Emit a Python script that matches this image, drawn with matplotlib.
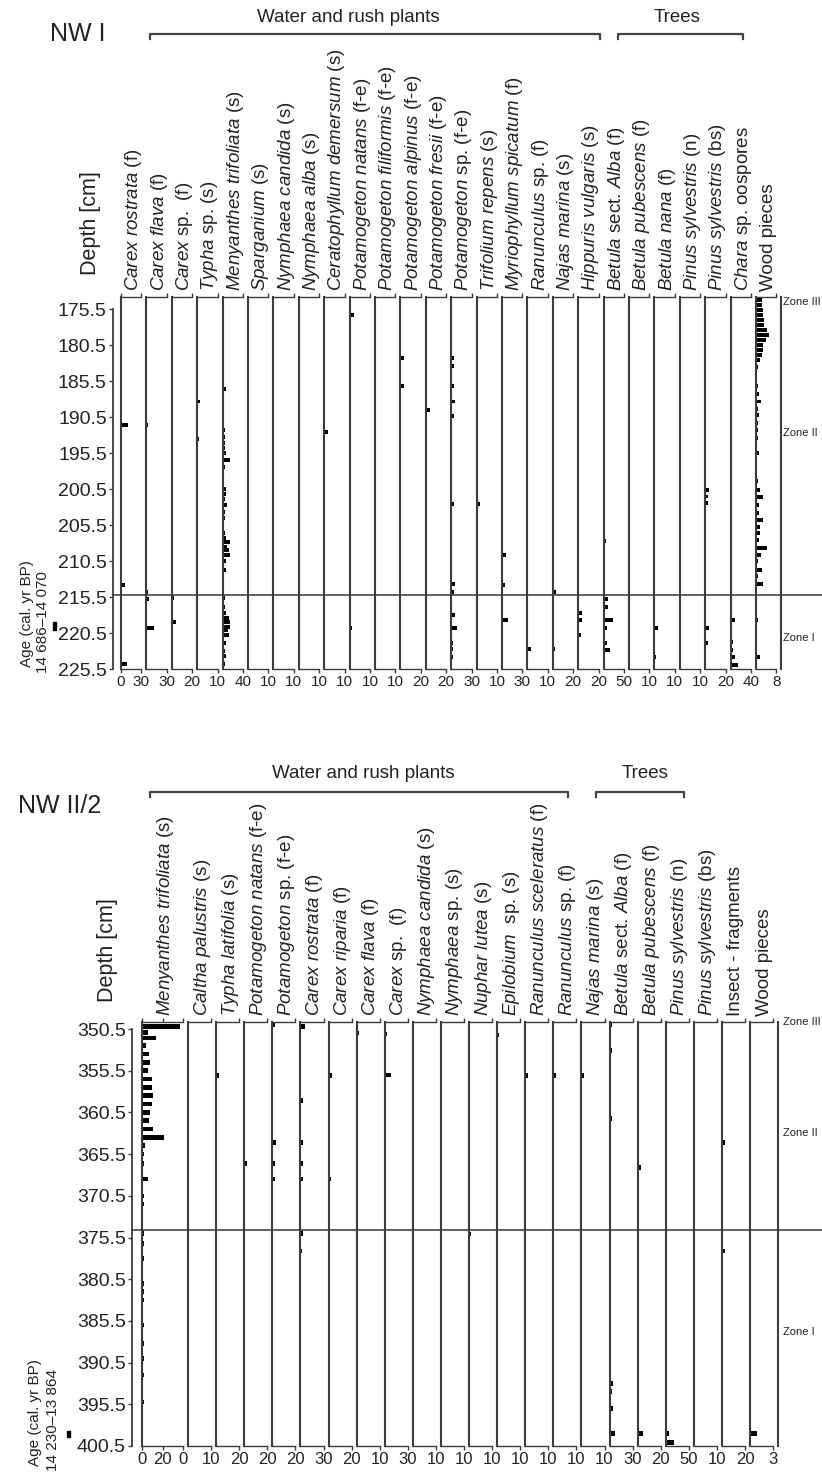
import matplotlib.pyplot as plt
from matplotlib.lines import Line2D
from matplotlib.patches import Rectangle

plt.rcParams['font.family'] = ['Liberation Sans', 'DejaVu Sans']
plt.rcParams['mathtext.fontset'] = 'custom'
plt.rcParams['mathtext.rm'] = 'Liberation Sans'
plt.rcParams['mathtext.it'] = 'Liberation Sans:italic'

W, H = 822, 1481


def it(s):
    return r"$\mathit{" + s.replace(" ", r"\ ") + "}$"


# ---------------------------------------------------------------
# NW I : taxa, scale maxima and (depth cm, value) records
# ---------------------------------------------------------------
nw1_taxa = [
    it("Carex rostrata") + " (f)", it("Carex flava") + " (f)", it("Carex") + " sp.  (f)",
    it("Typha") + " sp. (s)", it("Menyanthes trifoliata") + " (s)", it("Sparganium") + " (s)",
    it("Nymphaea candida") + " (s)", it("Nymphaea alba") + " (s)",
    it("Ceratophyllum demersum") + " (s)", it("Potamogeton natans") + " (f-e)",
    it("Potamogeton filiformis") + " (f-e)", it("Potamogeton alpinus") + " (f-e)",
    it("Potamogeton fresii") + " (f-e)", it("Potamogeton") + " sp. (f-e)",
    it("Trifolium repens") + " (s)", it("Myriophyllum spicatum") + " (f)",
    it("Ranunculus") + " sp. (f)", it("Najas marina") + " (s)", it("Hippuris vulgaris") + " (s)",
    it("Betula") + " sect. " + it("Alba") + " (f)", it("Betula pubescens") + " (f)",
    it("Betula nana") + " (f)", it("Pinus sylvestris") + " (n)", it("Pinus sylvestris") + " (bs)",
    it("Chara") + " sp. oospores", "Wood pieces",
]
nw1_max = [30, 30, 20, 10, 40, 10, 10, 10, 10, 10, 10, 20, 20, 30, 10, 30, 10, 20, 20,
           50, 10, 10, 10, 20, 40, 8]

nw1_carex_rostrata = [(191.5, 10), (212.6, 1.5), (213.8, 6), (215.9, 1), (222.6, 1.5), (224.8, 9.5)]
nw1_carex_flava = [(191.5, 3), (214.7, 3), (215.7, 4.5), (219.8, 11)]
nw1_carex_sp = [(204.8, 1.5), (209.6, 1.5), (215.6, 2.5), (217.7, 1.5), (218.9, 4.5),
                (221.9, 1.5), (224.0, 1.5), (225.1, 1)]
nw1_typha = [(188.3, 1.5), (193.5, 0.8)]
nw1_menyanthes = [(186.5, 7), (192.3, 5), (193.2, 5), (194.1, 5), (194.8, 5), (195.5, 6),
                  (196.4, 15), (197.4, 5), (200.4, 6), (201.1, 6), (201.8, 5), (202.7, 9),
                  (203.6, 5), (204.5, 5), (206.6, 5), (207.3, 6), (207.8, 15), (208.5, 8),
                  (208.9, 12), (209.6, 14), (210.5, 7), (211.7, 6), (215.6, 4), (216.8, 5),
                  (217.7, 6), (218.4, 12), (218.9, 14), (219.6, 15), (220.0, 10), (220.7, 12),
                  (221.9, 6), (223.0, 5), (223.7, 6), (224.7, 5)]
nw1_sparganium = [(219.8, 0.5)]
nw1_nymphaea_candida = []
nw1_nymphaea_alba = [(195.5, 0.5)]
nw1_ceratophyllum = [(192.5, 2)]
nw1_pot_natans = [(176.3, 2), (219.8, 1.2)]
nw1_pot_filiformis = [(182.3, 0.5), (185.1, 0.5), (186.2, 0.5)]
nw1_pot_alpinus = [(182.3, 3.5), (186.2, 3.5)]
nw1_pot_fresii = [(184.4, 1), (189.5, 4.5)]
nw1_pot_sp = [(182.3, 3.5), (183.4, 3.5), (186.2, 3.5), (188.3, 6), (190.3, 3.5), (202.5, 3.5),
              (213.6, 6), (214.7, 3.5), (218.0, 5), (219.8, 8), (221.8, 2.5), (222.7, 2.5),
              (223.8, 2.5)]
nw1_trifolium = [(202.5, 1.6)]
nw1_myriophyllum = [(209.6, 6), (212.6, 1.5), (213.8, 5), (218.7, 9.5)]
nw1_ranunculus = [(222.7, 2)]
nw1_najas = [(210.5, 0.6), (214.7, 3.5), (216.8, 0.6), (222.7, 2)]
nw1_hippuris = [(217.7, 4), (218.7, 4), (220.7, 3)]
nw1_betula_alba = [(207.7, 6), (215.8, 10), (216.8, 10), (218.7, 24), (219.8, 8), (221.8, 8),
                   (222.8, 16)]
nw1_betula_pubescens = [(218.7, 0.5)]
nw1_betula_nana = [(219.8, 1.6), (223.8, 1)]
nw1_pinus_n = [(203.4, 0.5), (204.3, 0.5), (205.2, 0.5), (206.2, 0.5), (206.8, 0.5), (207.8, 0.5),
               (218.7, 0.6), (221.9, 0.6)]
nw1_pinus_bs = [(200.6, 3.5), (201.5, 3), (202.4, 3), (219.8, 4), (221.9, 3)]
nw1_chara = [(218.7, 8), (221.7, 5), (222.8, 5), (223.8, 8), (224.9, 14)]
nw1_wood = [(174.2, 2.2), (174.9, 2.2), (175.6, 2.9), (176.3, 2.9), (177.0, 3.1), (177.7, 3.1),
            (178.4, 4.2), (179.1, 5.2), (179.8, 3.9), (180.5, 2.6), (181.1, 2.9), (181.8, 2.2),
            (182.5, 1.6), (183.5, 0.9), (186.2, 0.6), (187.2, 1.3), (188.3, 1.8), (189.3, 0.9),
            (190.2, 1.3), (191.3, 0.9), (192.3, 0.9), (193.4, 0.9), (195.5, 1.3), (199.4, 0.6),
            (200.6, 1.6), (201.6, 2.9), (202.7, 1.3), (203.8, 1.3), (204.7, 2.9), (205.7, 1.6),
            (206.6, 1.6), (207.5, 1.3), (208.7, 4.2), (209.6, 1.8), (210.5, 0.9), (211.7, 2.2),
            (212.6, 0.9), (213.6, 2.6), (215.8, 0.5), (217.7, 0.5), (218.7, 0.6), (220.5, 0.5),
            (223.8, 1.6)]

nw1_records = [nw1_carex_rostrata, nw1_carex_flava, nw1_carex_sp, nw1_typha, nw1_menyanthes,
               nw1_sparganium, nw1_nymphaea_candida, nw1_nymphaea_alba, nw1_ceratophyllum,
               nw1_pot_natans, nw1_pot_filiformis, nw1_pot_alpinus, nw1_pot_fresii, nw1_pot_sp,
               nw1_trifolium, nw1_myriophyllum, nw1_ranunculus, nw1_najas, nw1_hippuris,
               nw1_betula_alba, nw1_betula_pubescens, nw1_betula_nana, nw1_pinus_n,
               nw1_pinus_bs, nw1_chara, nw1_wood]
nw1_depth_ticks = [175.5, 180.5, 185.5, 190.5, 195.5, 200.5, 205.5, 210.5, 215.5, 220.5, 225.5]
nw1_zone_boundary = 215.2
nw1_zones = ["Zone III", "Zone II", "Zone I"]

# ---------------------------------------------------------------
# NW II/2
# ---------------------------------------------------------------
nw2_taxa = [
    it("Menyanthes trifoliata") + " (s)", it("Caltha palustris") + " (s)",
    it("Typha latifolia") + " (s)", it("Potamogeton natans") + " (f-e)",
    it("Potamogeton") + " sp. (f-e)", it("Carex rostrata") + " (f)", it("Carex riparia") + " (f)",
    it("Carex flava") + " (f)", it("Carex") + " sp.  (f)", it("Nymphaea candida") + " (s)",
    it("Nymphaea") + " sp. (s)", it("Nuphar lutea") + " (s)", it("Epilobium") + "  sp. (s)",
    it("Ranunculus sceleratus") + " (f)", it("Ranunculus") + " sp. (f)",
    it("Najas marina") + " (s)", it("Betula") + " sect. " + it("Alba") + " (f)",
    it("Betula pubescens") + " (f)", it("Pinus sylvestris") + " (n)",
    it("Pinus sylvestris") + " (bs)", "Insect - fragments", "Wood pieces",
]
nw2_max = [40, 10, 20, 20, 20, 30, 20, 10, 30, 10, 10, 10, 10, 10, 10, 10, 30, 20, 50, 10, 20, 3]

nw2_menyanthes = [(350.2, 37), (350.9, 6), (351.6, 14), (352.5, 4), (353.5, 7), (354.5, 8),
                  (355.5, 6), (356.5, 10), (357.5, 10), (358.5, 11), (359.5, 10), (360.5, 8),
                  (361.5, 7), (362.5, 11), (363.5, 21), (364.5, 3), (365.5, 2), (366.6, 2),
                  (368.5, 6), (370.5, 2), (371.5, 2), (375.0, 2), (376.2, 2), (378.0, 2),
                  (381.0, 2), (382.0, 2), (383.0, 2), (386.0, 2), (388.2, 2), (390.0, 2),
                  (392.0, 2), (395.2, 2)]
nw2_caltha = [(350.0, 0.5)]
nw2_typha = [(350.0, 1), (356.1, 2.6), (398.0, 1)]
nw2_pot_natans = [(363.5, 0.8), (364.5, 0.8), (365.5, 0.8), (366.6, 2.6), (367.5, 0.8), (368.5, 0.8)]
nw2_pot_sp = [(350.0, 2), (358.1, 0.8), (364.1, 2.8), (366.6, 2.6), (368.5, 2.6)]
nw2_carex_rostrata = [(350.2, 6.5), (359.1, 4), (364.1, 3), (366.6, 3), (368.5, 3), (375.0, 3),
                      (377.1, 2.5)]
nw2_carex_riparia = [(356.1, 2.6), (368.5, 2.2)]
nw2_carex_flava = [(351.0, 1)]
nw2_carex_sp = [(351.1, 3), (356.0, 8.5), (357.1, 2), (364.1, 2)]
nw2_nymphaea_candida = [(350.0, 0.6)]
nw2_nymphaea_sp = []
nw2_nuphar = [(375.1, 0.7)]
nw2_epilobium = [(351.2, 0.7)]
nw2_ran_sceleratus = [(356.1, 1.3)]
nw2_ranunculus = [(356.1, 1.3)]
nw2_najas = [(356.1, 1.3)]
nw2_betula_alba = [(350.0, 3.5), (353.1, 3), (361.2, 3), (393.0, 5), (394.0, 3), (396.0, 4.5),
                   (399.0, 7)]
nw2_betula_pubescens = [(367.1, 2.6), (399.0, 5)]
nw2_pinus_n = [(368.0, 1), (369.1, 1), (374.2, 1.5), (379.0, 1), (381.0, 1), (384.2, 1),
               (390.0, 1), (396.0, 1), (399.0, 8), (400.1, 19)]
nw2_pinus_bs = [(364.5, 0.4), (366.6, 0.5), (368.6, 0.5), (370.6, 0.4), (383.0, 0.4)]
nw2_insect = [(364.1, 3), (377.1, 3)]
nw2_wood = [(395.8, 0.12), (397.0, 0.12), (399.0, 0.9)]

nw2_records = [nw2_menyanthes, nw2_caltha, nw2_typha, nw2_pot_natans, nw2_pot_sp,
               nw2_carex_rostrata, nw2_carex_riparia, nw2_carex_flava, nw2_carex_sp,
               nw2_nymphaea_candida, nw2_nymphaea_sp, nw2_nuphar, nw2_epilobium,
               nw2_ran_sceleratus, nw2_ranunculus, nw2_najas, nw2_betula_alba,
               nw2_betula_pubescens, nw2_pinus_n, nw2_pinus_bs, nw2_insect, nw2_wood]
nw2_depth_ticks = [350.5, 355.5, 360.5, 365.5, 370.5, 375.5, 380.5, 385.5, 390.5, 395.5, 400.5]
nw2_zone_boundary = 374.6
nw2_zones = ["Zone III", "Zone II", "Zone I"]

# ---------------------------------------------------------------
fig = plt.figure(figsize=(W / 100, H / 100), dpi=100)
LINE = '#3c3c3c'
TXT = '#222222'


def px_axes(x0, y0, x1, y1):
    return fig.add_axes([x0 / W, 1 - y1 / H, (x1 - x0) / W, (y1 - y0) / H])


def ftext(x, y, s, **kw):
    return fig.text(x / W, 1 - y / H, s, color=TXT, **kw)


def bracket(x0, x1, y):
    fig.add_artist(Line2D([x0 / W, x0 / W, x1 / W, x1 / W],
                          [1 - (y + 5) / H, 1 - y / H, 1 - y / H, 1 - (y + 5) / H],
                          transform=fig.transFigure, color='#444444', lw=1.6))


def draw_panel(taxa, maxima, records, edges, y_top, y_bot, ylim, depth_x, depth_ticks,
               zone_depth, first_ticks, first_labels, bar_h, lab_fs, tick_fs):
    # depth axis (spans whole panel so the zone line can be drawn from it)
    axd = px_axes(depth_x, y_top, edges[-1], y_bot)
    axd.set_ylim(*ylim)
    axd.set_xlim(0, 1)
    axd.patch.set_visible(False)
    for s in ['top', 'right', 'bottom']:
        axd.spines[s].set_visible(False)
    axd.spines['left'].set_bounds(depth_ticks[0], depth_ticks[-1])
    axd.spines['left'].set_color(LINE)
    axd.spines['left'].set_linewidth(1.3)
    axd.set_xticks([])
    axd.set_yticks(depth_ticks)
    axd.set_yticklabels([f"{t:.1f}" for t in depth_ticks], fontsize=14, color=TXT)
    axd.tick_params(axis='y', direction='out', length=3, width=1, color=LINE, pad=1.5)
    axd.axhline(zone_depth, xmin=0, xmax=(W - depth_x) / (edges[-1] - depth_x),
                color='#555555', lw=1.3, clip_on=False)

    n = len(taxa)
    for i in range(n):
        x0, x1 = edges[i], edges[i + 1]
        w = x1 - x0
        mx = maxima[i]
        ax = px_axes(x0, y_top, x1, y_bot)
        ax.patch.set_visible(False)
        ax.set_ylim(*ylim)
        ax.set_xlim(0, mx * w / (w - 5))
        rec = records[i]
        if rec:
            d = [r[0] for r in rec]
            v = [r[1] for r in rec]
            ax.barh(d, v, height=bar_h, left=0, color='black', linewidth=0)
        ax.spines['left'].set_color(LINE)
        ax.spines['left'].set_linewidth(1.5)
        ax.spines['right'].set_visible(i == n - 1)
        ax.spines['right'].set_color(LINE)
        ax.spines['right'].set_linewidth(1.5)
        for s in ['top', 'bottom']:
            ax.spines[s].set_bounds(0, mx)
            ax.spines[s].set_color(LINE)
            ax.spines[s].set_linewidth(1.0)
        ax.set_yticks([])
        if i == 0:
            ax.set_xticks(first_ticks)
            ax.set_xticklabels(first_labels)
        else:
            ax.set_xticks([mx])
            ax.set_xticklabels([str(mx)])
        ax.tick_params(axis='x', top=True, bottom=True, direction='out', length=3,
                       width=1, color=LINE, labelsize=tick_fs, pad=1, labelcolor=TXT)
        ax.text(0.5, 1.0 + 6.0 / (y_bot - y_top), taxa[i], rotation=90, ha='center',
                va='bottom', fontsize=lab_fs, transform=ax.transAxes, color=TXT)
    return axd


# ----- NW I -----
edges1 = [121 + 25.4 * i for i in range(27)]
draw_panel(nw1_taxa, nw1_max, nw1_records, edges1, 297.1, 669.3, (225.5, 173.8), 113,
           nw1_depth_ticks, nw1_zone_boundary, [0, 30], ['0', '30'], 0.55, 13.5, 11)
ftext(50, 34, "NW I", fontsize=18, ha='left', va='center')
ftext(348, 18, "Water and rush plants", fontsize=13.5, ha='center', va='center')
ftext(677, 18, "Trees", fontsize=13.5, ha='center', va='center')
bracket(150, 600, 34)
bracket(618, 743, 34)
ftext(90, 223, "Depth [cm]", fontsize=15.5, rotation=90, ha='center', va='center')
ftext(27, 614, "Age (cal. yr BP)", fontsize=11, rotation=90, ha='center', va='center')
ftext(43, 622, "14 686\u201314 070", fontsize=11, rotation=90, ha='center', va='center')
fig.add_artist(Rectangle((53 / W, 1 - 630 / H), 3 / W, 8 / H, transform=fig.transFigure,
                         color='black'))
for z, y in zip(nw1_zones, [302, 433, 638]):
    ftext(783, y, z, fontsize=8, ha='left', va='center')

# ----- NW II/2 -----
edges2 = [142, 188] + [188 + 28.1 * (i + 1) for i in range(21)]
draw_panel(nw2_taxa, nw2_max, nw2_records, edges2, 1022, 1446, (400.5, 349.66), 132,
           nw2_depth_ticks, nw2_zone_boundary, [0, 20, 40], ['0', '20', '0'], 0.55, 13.5, 12)
ftext(18, 806, "NW II/2", fontsize=18, ha='left', va='center')
ftext(363, 773, "Water and rush plants", fontsize=13.5, ha='center', va='center')
ftext(645, 773, "Trees", fontsize=13.5, ha='center', va='center')
bracket(150, 568, 792)
bracket(596, 684, 792)
ftext(107, 950, "Depth [cm]", fontsize=15.5, rotation=90, ha='center', va='center')
ftext(35, 1413, "Age (cal. yr BP)", fontsize=11, rotation=90, ha='center', va='center')
ftext(53, 1420, "14 230\u201313 864", fontsize=11, rotation=90, ha='center', va='center')
fig.add_artist(Rectangle((67 / W, 1 - 1437 / H), 3 / W, 6 / H, transform=fig.transFigure,
                         color='black'))
for z, y in zip(nw2_zones, [1022, 1133, 1332]):
    ftext(783, y, z, fontsize=8, ha='left', va='center')

fig.savefig("out.png", dpi=100, facecolor='white')
